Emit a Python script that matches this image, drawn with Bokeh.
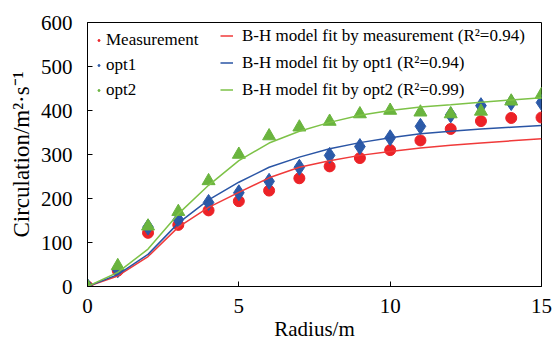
from bokeh.plotting import figure
from bokeh.models import Legend, LegendItem, ColumnDataSource, FixedTicker, Range1d
from bokeh.embed import file_html
from bokeh.resources import INLINE

radius = [0, 1, 2, 3, 4, 5, 6, 7, 8, 9, 10, 11, 12, 13, 14, 15]
measurement = [0, 36, 122, 140, 173, 194, 218, 246, 273, 292, 310, 332, 358, 376, 383, 384]
opt1 = [0, 38, 135, 152, 191, 213, 239, 271, 298, 318, 338, 364, 390, 411, 418, 418]
opt2 = [0, 47, 137, 170, 240, 300, 342, 362, 375, 392, 400, 396, 392, 398, 421, 436]
fit_meas = [0, 24, 68, 135, 180, 214, 247, 271, 286, 298, 307, 315, 321, 326, 331, 336]
fit_opt1 = [0, 27, 73, 144, 197, 237, 271, 294, 313, 327, 338, 347, 353, 358, 362, 366]
fit_opt2 = [0, 32, 85, 165, 230, 286, 326, 353, 373, 389, 400, 408, 413, 419, 424, 429]

x_ticks = [0, 5, 10, 15]
y_ticks = [0, 100, 200, 300, 400, 500, 600]

FONT = "Liberation Serif"
RED_M, BLUE_M, GREEN_M = "#EC2227", "#2C5AA8", "#6AB43E"
RED_L, BLUE_L, GREEN_L = "#F03A3A", "#2A55A5", "#7DC247"

src = ColumnDataSource(dict(x=radius, m=measurement, o1=opt1, o2=opt2,
                            fm=fit_meas, f1=fit_opt1, f2=fit_opt2))

p = figure(width=552, height=348, output_backend="svg", toolbar_location=None,
           x_range=Range1d(0, 15), y_range=Range1d(0, 600),
           min_border_left=87, min_border_right=11, min_border_top=22, min_border_bottom=62)
p.background_fill_color = "white"
p.border_fill_color = "white"
p.outline_line_color = "black"
p.outline_line_width = 1
p.xgrid.visible = False
p.ygrid.visible = False

for ax in (p.xaxis[0], p.yaxis[0]):
    ax.major_tick_in = 5
    ax.major_tick_out = 0
    ax.minor_tick_in = 0
    ax.minor_tick_out = 0
    ax.axis_line_color = "black"
    ax.major_tick_line_color = "black"
    ax.major_label_text_font = FONT
    ax.major_label_text_font_size = "21px"
    ax.major_label_text_color = "black"
    ax.axis_label_text_font = FONT
    ax.axis_label_text_font_size = "21px"
    ax.axis_label_text_font_style = "normal"
    ax.axis_label_text_color = "black"

p.xaxis.ticker = FixedTicker(ticks=x_ticks)
p.yaxis.ticker = FixedTicker(ticks=y_ticks)
p.xaxis.axis_label = "Radius/m"
p.yaxis.axis_label = "Circulation/m²·s⁻¹"
p.yaxis.axis_label_text_font_size = "23px"
p.xaxis.major_label_standoff = 12
p.xaxis.axis_label_standoff = 1
p.yaxis.major_label_standoff = 15
p.yaxis.axis_label_standoff = 4

# markers
p.scatter("x", "m", source=src, marker="circle", size=11, fill_color=RED_M, line_color=RED_M)
p.scatter("x", "o1", source=src, marker="diamond", size=16, fill_color=BLUE_M, line_color=BLUE_M)
p.scatter("x", "o2", source=src, marker="triangle", size=13, fill_color=GREEN_M, line_color=GREEN_M)

# fit lines
lr = p.line("x", "fm", source=src, line_color=RED_L, line_width=1.5)
lb = p.line("x", "f1", source=src, line_color=BLUE_L, line_width=1.5)
lg = p.line("x", "f2", source=src, line_color=GREEN_L, line_width=1.5)

# tiny legend marker proxies (placed outside the visible range)
proxy = ColumnDataSource(dict(x=[-100], y=[-100]))
dr = p.scatter("x", "y", source=proxy, marker="circle", size=3, fill_color=RED_M, line_color=RED_M)
db = p.scatter("x", "y", source=proxy, marker="circle", size=3, fill_color=BLUE_M, line_color=BLUE_M)
dg = p.scatter("x", "y", source=proxy, marker="circle", size=3, fill_color=GREEN_M, line_color=GREEN_M)

def style_legend(lg_):
    lg_.background_fill_alpha = 0
    lg_.border_line_alpha = 0
    lg_.label_text_font = FONT
    lg_.label_text_font_size = "17px"
    lg_.label_text_color = "black"
    lg_.padding = 0
    lg_.margin = 0

leg1 = Legend(items=[LegendItem(label="Measurement", renderers=[dr]),
                     LegendItem(label="opt1", renderers=[db]),
                     LegendItem(label="opt2", renderers=[dg])],
              location=(9, 186))
style_legend(leg1)
leg1.glyph_width = 5
leg1.glyph_height = 20
leg1.label_height = 20
leg1.spacing = 5
leg1.label_standoff = 5

leg2 = Legend(items=[LegendItem(label="B-H model fit by measurement (R²=0.94)", renderers=[lr]),
                     LegendItem(label="B-H model fit by opt1 (R²=0.94)", renderers=[lb]),
                     LegendItem(label="B-H model fit by opt2 (R²=0.99)", renderers=[lg])],
              location=(133, 186))
style_legend(leg2)
leg2.glyph_width = 13
leg2.glyph_height = 21
leg2.label_height = 21
leg2.spacing = 6
leg2.label_standoff = 9

p.add_layout(leg1, "center")
p.add_layout(leg2, "center")

open("out.html", "w").write(file_html(p, INLINE))
